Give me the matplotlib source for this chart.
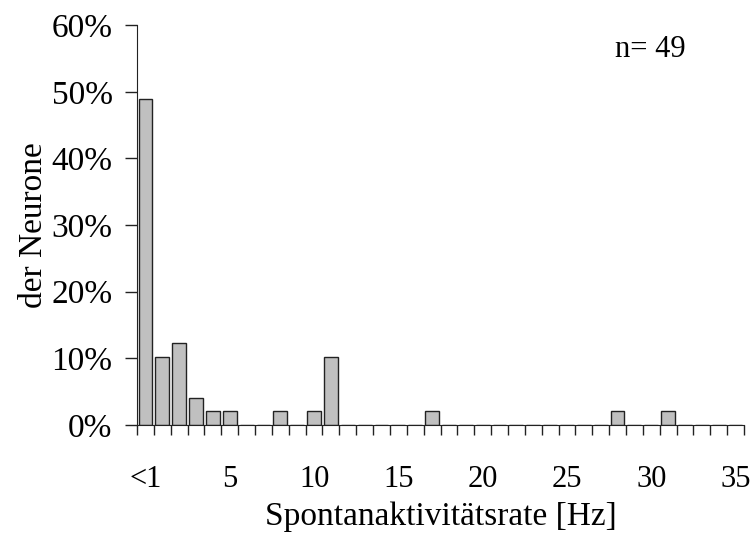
import numpy as np
import matplotlib
matplotlib.use('Agg')
import matplotlib.pyplot as plt
from matplotlib.ticker import FixedLocator, FuncFormatter

# histogram of spontaneous rates, n = 49 neurons
n_total = 49
categories = ['<1'] + [str(k) for k in range(1, 36)]
counts = [24, 5, 6, 2, 1, 1, 0, 0, 1, 0, 1, 5, 0, 0, 0, 0, 0, 1,
          0, 0, 0, 0, 0, 0, 0, 0, 0, 0, 1, 0, 0, 1, 0, 0, 0, 0]
label_every = 5
y_ticks = [0, 10, 20, 30, 40, 50, 60]

percent = np.array(counts) / n_total * 100
pos = np.arange(len(categories))

plt.rcParams['font.family'] = ['Liberation Serif', 'DejaVu Serif']

fig = plt.figure(figsize=(7.53, 5.34), dpi=100)
fig.set_facecolor('white')
ax = fig.add_axes([0.182, 0.204, 0.806, 0.749])

ax.bar(pos, percent, width=0.82, color='#c0c0c0', edgecolor='#222222', linewidth=1.0)

ax.set_xlim(-0.5, len(categories) - 0.5)
ax.set_ylim(0, 60)

# labels on every 5th category, ticks on the category borders
major = [i for i in pos if i % label_every == 0]
ax.xaxis.set_major_locator(FixedLocator(major))
ax.set_xticklabels([categories[i] for i in major])
ax.xaxis.set_minor_locator(FixedLocator(np.arange(-0.5, len(categories), 1.0)))
ax.tick_params(axis='x', which='major', length=0, pad=29, labelsize=22)
ax.tick_params(axis='x', which='minor', length=7.5, width=1.0, direction='out', color='#222222')

ax.set_yticks(y_ticks)
ax.yaxis.set_major_formatter(FuncFormatter(lambda v, p: '%d%%' % v))
ax.tick_params(axis='y', length=8.6, width=1.0, direction='out', pad=9, labelsize=24, color='#222222')

ax.spines['top'].set_visible(False)
ax.spines['right'].set_visible(False)
ax.spines['left'].set_color('#222222')
ax.spines['bottom'].set_color('#222222')

ax.set_xlabel('Spontanaktivitätsrate [Hz]', fontsize=24, labelpad=5)
ax.set_ylabel('der Neurone', fontsize=24, labelpad=2)

ax.text(0.787, 0.94, 'n= %d' % n_total, transform=ax.transAxes, fontsize=22, va='center', ha='left')

fig.savefig('out.png', dpi=100)
